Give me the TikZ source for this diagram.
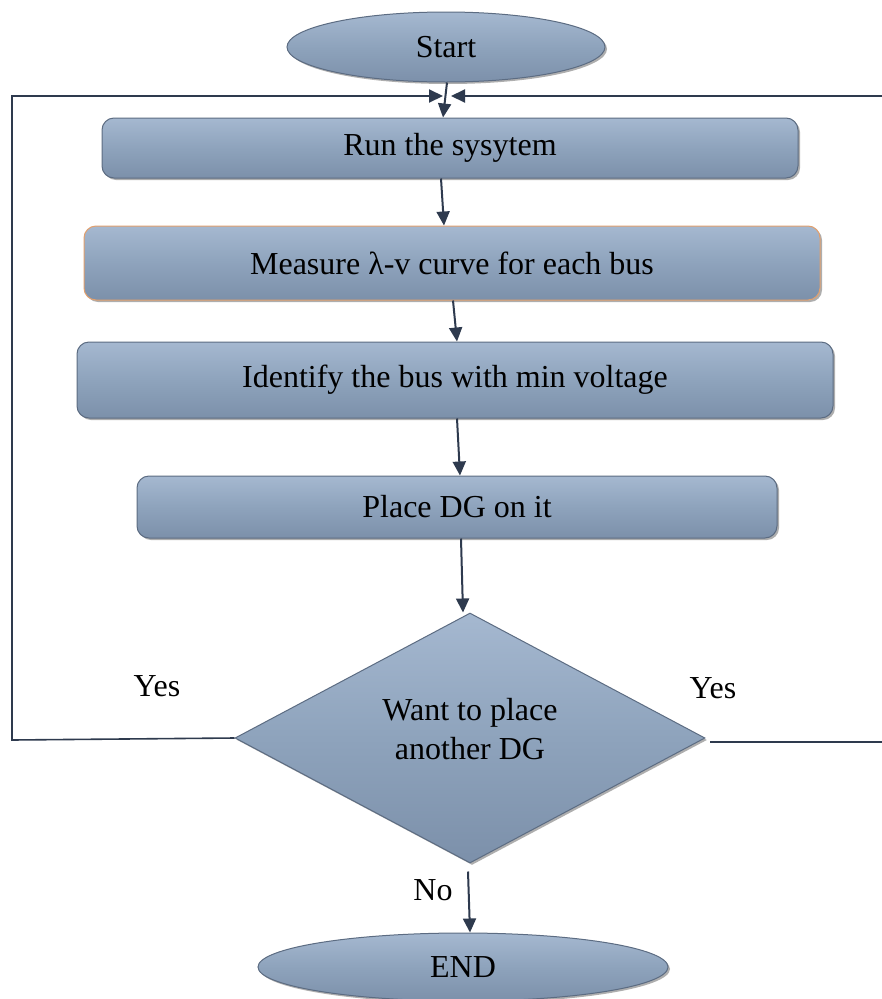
\documentclass[tikz,border=0pt]{standalone}
\usepackage{fontspec}
\setmainfont{Liberation Serif}
\usetikzlibrary{shapes.geometric,arrows.meta,shadows}
\definecolor{boxfill}{RGB}{142,163,188}
\definecolor{boxlight}{RGB}{165,184,208}
\definecolor{boxdark}{RGB}{124,144,170}
\definecolor{boxedge}{RGB}{92,108,130}
\definecolor{arrowc}{RGB}{46,58,78}
\definecolor{orangeedge}{RGB}{226,160,110}
\tikzset{
  shapebase/.style={top color=boxlight, bottom color=boxdark, middle color=boxfill,
    draw=boxedge, line width=1pt, inner sep=0pt, align=center,
    font=\fontsize{32}{39}\selectfont,
    drop shadow={shadow xshift=2pt, shadow yshift=-2pt, opacity=0.45, fill=black!70}},
  procbox/.style={shapebase, rectangle, rounded corners=12pt},
  termin/.style={shapebase, ellipse},
  decis/.style={shapebase, diamond},
  arr/.style={draw=arrowc, line width=2pt, -{Triangle[length=14pt,width=13pt]}},
  ln/.style={draw=arrowc, line width=1.6pt},
  lbl/.style={font=\fontsize{32}{39}\selectfont, inner sep=0pt, align=center}
}
\begin{document}
\begin{tikzpicture}[x=1pt,y=-1pt]
\useasboundingbox[fill=white] (0,0) rectangle (882,999);
\node[termin, minimum width=318pt, minimum height=70pt] (start) at (446,47) {Start};
\node[procbox, minimum width=696pt, minimum height=60pt] (run) at (450,148) {Run the sysytem};
\node[procbox, draw=orangeedge, minimum width=736pt, minimum height=74pt] (meas) at (452,263) {Measure λ-v curve for each bus};
\node[procbox, minimum width=756pt, minimum height=76pt] (ident) at (455,380) {Identify the bus with min voltage};
\node[procbox, minimum width=640pt, minimum height=62pt] (place) at (457,507) {Place DG on it};
\node[decis, minimum width=470pt, minimum height=250pt] (want) at (470,738) {};
\node[lbl] (wanttxt) at (470,729) {Want to place\\another DG};
\node[termin, minimum width=410pt, minimum height=68pt] (end) at (463,967) {END};
\node[lbl] (yesl) at (157,686) {Yes};
\node[lbl] (yesr) at (713,688) {Yes};
\node[lbl] (no) at (433,890) {No};
\coordinate (mergeL) at (443,96);
\coordinate (mergeR) at (451,96);
\coordinate (cornerLB) at (12,740);
\coordinate (cornerLT) at (12,96);
\coordinate (startR) at (710,742);
\coordinate (cornerRB) at (886,742);
\coordinate (cornerRT) at (886,96);
\draw[arr] ([xshift=1pt]start.south) -- ([xshift=-7pt]run.north);
\draw[arr] ([xshift=-9pt]run.south) -- ([xshift=-8pt]meas.north);
\draw[arr] ([xshift=1pt]meas.south) -- ([xshift=2pt]ident.north);
\draw[arr] ([xshift=2pt]ident.south) -- ([xshift=3pt]place.north);
\draw[arr] ([xshift=4pt]place.south) -- ([xshift=-7pt]want.north);
\draw[arr] ([xshift=-2pt,yshift=-8pt]want.south) -- ([xshift=7pt]end.north);
\draw[ln] (want.west) -- (cornerLB) -- (cornerLT) -- (410,96);
\draw[arr] (405,96) -- (mergeL);
\draw[ln] (startR) -- (cornerRB) -- (cornerRT) -- (490,96);
\draw[arr] (495,96) -- (mergeR);
\end{tikzpicture}
\end{document}
